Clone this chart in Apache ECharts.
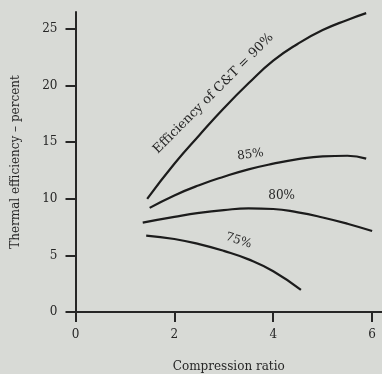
<!DOCTYPE html>
<html>
<head>
<meta charset="utf-8">
<script src="https://cdn.jsdelivr.net/npm/echarts@6/dist/echarts.min.js"></script>
<style>
html,body{margin:0;padding:0;background:#d8dad6;}
#c{width:382px;height:374px;}
</style>
</head>
<body>
<div id="c"></div>
<script>
// Data
const xTicks = [0, 2, 4, 6];
const yTicks = [0, 5, 10, 15, 20, 25];
const seriesNames = ['90%', '85%', '80%', '75%'];
const eff90 = [[1.45,10.0],[2.0,13.1],[2.5,15.6],[3.0,18.0],[3.5,20.2],[4.0,22.2],[4.5,23.7],[5.0,24.9],[5.5,25.8],[5.88,26.4]];
const eff85 = [[1.5,9.2],[2.0,10.3],[2.5,11.2],[3.0,11.95],[3.5,12.6],[4.0,13.1],[4.5,13.5],[5.0,13.75],[5.5,13.8],[5.88,13.55]];
const eff80 = [[1.36,7.9],[2.0,8.4],[2.5,8.75],[3.0,9.0],[3.5,9.15],[4.0,9.1],[4.5,8.8],[5.0,8.35],[5.5,7.8],[6.0,7.15]];
const eff75 = [[1.43,6.75],[2.0,6.45],[2.5,6.0],[3.0,5.4],[3.5,4.65],[4.0,3.6],[4.56,1.95]];
const curveLabels = ['Efficiency of C&T = 90%', '85%', '80%', '75%'];
const labelAnchors = [[2.79,19.3],[3.54,13.9],[4.17,10.3],[3.30,6.3]];
const labelAngles = [45, 8, 0, -18];

const ink = '#262626';
const serif = 'DejaVu Serif';
const dataSets = [eff90, eff85, eff80, eff75];

const chart = echarts.init(document.getElementById('c'));
chart.setOption({
  backgroundColor: '#d8dad6',
  animation: false,
  grid: {left: 75.5, right: 0, top: 12, bottom: 62, outerBoundsMode: 'none', containLabel: false},
  xAxis: {
    type: 'value', min: 0, max: 6.2,
    name: 'Compression ratio', nameLocation: 'middle', nameGap: 49,
    nameTextStyle: {fontFamily: serif, fontSize: 12, color: ink},
    axisLine: {show: true, lineStyle: {color: ink, width: 2}},
    axisTick: {show: true, length: 10, lineStyle: {color: ink, width: 2}, customValues: xTicks},
    axisLabel: {fontFamily: serif, fontSize: 12, color: ink, margin: 17, customValues: xTicks},
    splitLine: {show: false}
  },
  yAxis: {
    type: 'value', min: 0, max: 26.5,
    name: 'Thermal efficiency – percent', nameLocation: 'middle', nameGap: 54, nameRotate: 90,
    nameTextStyle: {fontFamily: serif, fontSize: 12, color: ink},
    axisLine: {show: true, lineStyle: {color: ink, width: 2}},
    axisTick: {show: true, length: 10, lineStyle: {color: ink, width: 2}, customValues: yTicks},
    axisLabel: {fontFamily: serif, fontSize: 12, color: ink, margin: 18, customValues: yTicks},
    splitLine: {show: false}
  },
  series: dataSets.map((d, i) => ({
    name: seriesNames[i],
    type: 'line',
    data: d,
    smooth: true,
    symbol: 'none',
    lineStyle: {color: '#1c1c1c', width: 2.2},
    markPoint: {
      symbol: 'circle', symbolSize: 0,
      data: [{coord: labelAnchors[i], value: curveLabels[i]}],
      label: {
        show: true, position: 'inside', formatter: curveLabels[i],
        rotate: labelAngles[i], fontFamily: serif, fontSize: i === 0 ? 13 : 12, color: ink
      }
    }
  }))
});
</script>
</body>
</html>
